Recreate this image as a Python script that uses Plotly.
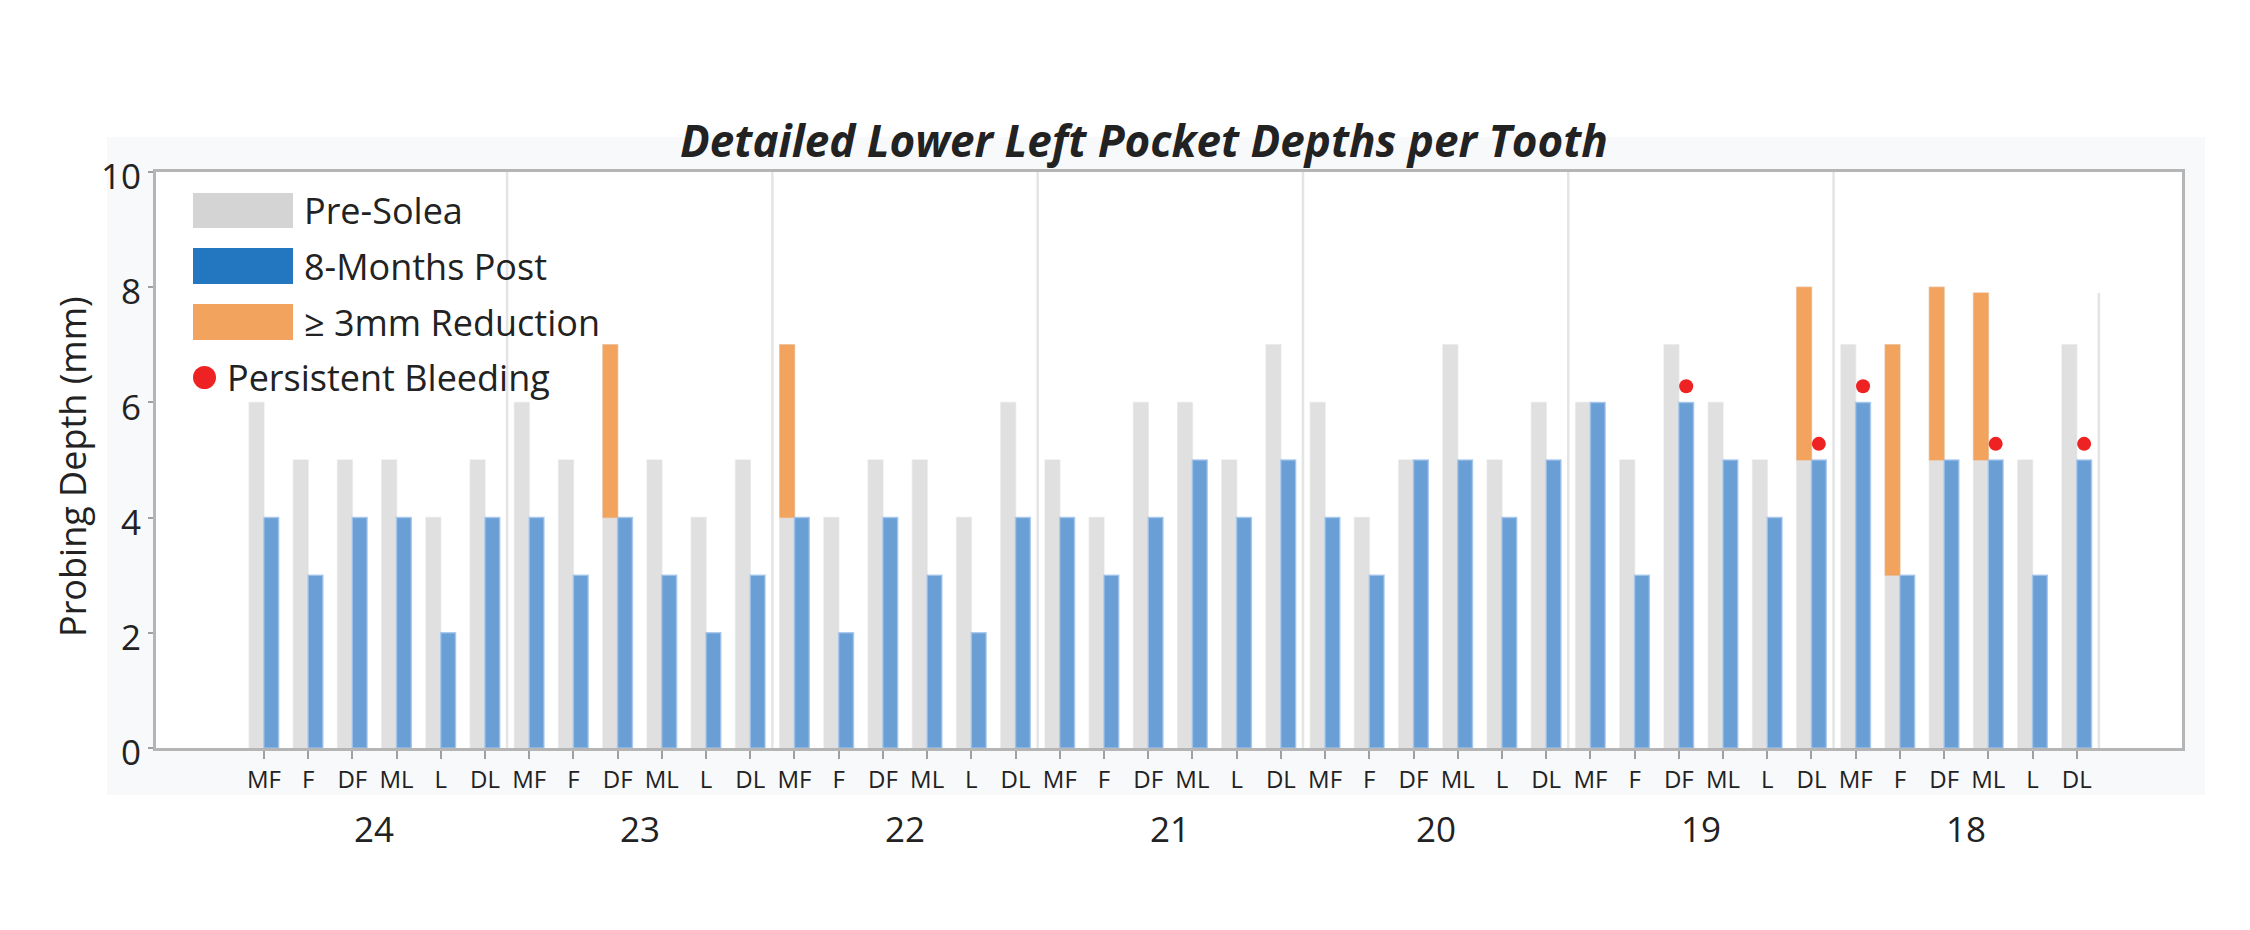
import plotly.graph_objects as go

# data
teeth = ["24", "23", "22", "21", "20", "19", "18"]
sites = ["MF", "F", "DF", "ML", "L", "DL"]

pre_solea = [6, 5, 5, 5, 4, 5,
             6, 5, 7, 5, 4, 5,
             7, 4, 5, 5, 4, 6,
             5, 4, 6, 6, 5, 7,
             6, 4, 5, 7, 5, 6,
             6, 5, 7, 6, 5, 8,
             7, 7, 8, 7.9, 5, 7]
post_8m = [4, 3, 4, 4, 2, 4,
           4, 3, 4, 3, 2, 3,
           4, 2, 4, 3, 2, 4,
           4, 3, 4, 5, 4, 5,
           4, 3, 5, 5, 4, 5,
           6, 3, 6, 5, 4, 5,
           6, 3, 5, 5, 3, 5]
reduction_3mm = [0, 0, 0, 0, 0, 0,
                 0, 0, 1, 0, 0, 0,
                 1, 0, 0, 0, 0, 0,
                 0, 0, 0, 0, 0, 0,
                 0, 0, 0, 0, 0, 0,
                 0, 0, 0, 0, 0, 1,
                 0, 1, 1, 1, 0, 0]
bleeding = [0, 0, 0, 0, 0, 0,
            0, 0, 0, 0, 0, 0,
            0, 0, 0, 0, 0, 0,
            0, 0, 0, 0, 0, 0,
            0, 0, 0, 0, 0, 0,
            0, 0, 1, 0, 0, 1,
            1, 0, 0, 1, 0, 1]

GRAY = "#e0e0e0"
BLUE = "#6a9fd5"
ORANGE = "#f2a35e"
RED = "#ee2222"
TEXT = "#222222"
FONT = "'Open Sans', Lato, sans-serif"

W, H = 2250, 930
OFF = 8  # page body margin pushes the figure 8px right/down
# plot area as it should appear on screen
PL, PR, PT, PB = 156, 2182, 172, 748
BW = 1 / 3  # bar width in category units


def px_x(px):
    return (px - PL) / (PR - PL)


def px_y(py):
    return (PB - py) / (PB - PT)


n = len(pre_solea)
xs = list(range(n))

fig = go.Figure()

fig.add_trace(go.Bar(
    x=xs, y=pre_solea, width=BW, offset=-BW,
    marker=dict(color=GRAY, line=dict(color="rgba(224,224,224,0.5)", width=1.5)),
    name="Pre-Solea", showlegend=False,
))

# orange part of the pre bar, from post value up to pre value
ox = [i for i in xs if reduction_3mm[i]]
fig.add_trace(go.Bar(
    x=ox,
    y=[pre_solea[i] - post_8m[i] for i in ox],
    base=[post_8m[i] for i in ox],
    width=BW, offset=-BW,
    marker=dict(color=ORANGE, line=dict(color="rgba(242,163,94,0.4)", width=1.5)),
    name="≥ 3mm Reduction", showlegend=False,
))

fig.add_trace(go.Bar(
    x=xs, y=post_8m, width=BW, offset=0,
    marker=dict(color=BLUE, line=dict(color="rgba(160,195,235,0.8)", width=1.5)),
    name="8-Months Post", showlegend=False,
))

bx = [i for i in xs if bleeding[i]]
fig.add_trace(go.Scatter(
    x=[i + BW / 2 for i in bx],
    y=[post_8m[i] + 0.28 for i in bx],
    mode="markers",
    marker=dict(color=RED, size=14),
    name="Persistent Bleeding", showlegend=False,
))

shapes = []
# faint frame behind the chart, then white plot area on top of it
shapes.append(dict(type="rect", xref="paper", yref="paper",
                   x0=px_x(107), x1=px_x(2205), y0=px_y(795), y1=px_y(137),
                   fillcolor="#f8f9fb", line=dict(width=0), layer="below"))
shapes.append(dict(type="rect", xref="paper", yref="paper",
                   x0=0, x1=1, y0=0, y1=1,
                   fillcolor="white", line=dict(width=0), layer="below"))

# separators between teeth
for k in range(1, len(teeth) + 1):
    xb = k * len(sites) - 0.5
    top = 10 if k < len(teeth) else max(pre_solea) - 0.1
    shapes.append(dict(type="line", xref="x", yref="y", x0=xb, x1=xb, y0=0, y1=top,
                       line=dict(color="#e4e4e4", width=2.5), layer="below"))

# hand-made legend with big swatches
legend_rows = [("Pre-Solea", "#d4d4d4", 193, 228),
               ("8-Months Post", "#2277c0", 248, 284),
               ("≥ 3mm Reduction", ORANGE, 304, 340)]
annotations = []
for label, col, y0, y1 in legend_rows:
    shapes.append(dict(type="rect", xref="paper", yref="paper",
                       x0=px_x(193), x1=px_x(293), y0=px_y(y1), y1=px_y(y0),
                       fillcolor=col, line=dict(width=0)))
    annotations.append(dict(x=px_x(302), y=px_y((y0 + y1) / 2), xref="paper", yref="paper",
                            text=label, showarrow=False, xanchor="left", yanchor="middle",
                            font=dict(size=36, color=TEXT, family=FONT)))
shapes.append(dict(type="circle", xref="paper", yref="paper",
                   x0=px_x(193), x1=px_x(216), y0=px_y(389), y1=px_y(366),
                   fillcolor=RED, line=dict(width=0)))
annotations.append(dict(x=px_x(225), y=px_y(377), xref="paper", yref="paper",
                        text="Persistent Bleeding", showarrow=False,
                        xanchor="left", yanchor="middle",
                        font=dict(size=36, color=TEXT, family=FONT)))

# tooth numbers under the site labels
for k, tooth in enumerate(teeth):
    annotations.append(dict(x=k * len(sites) + (len(sites) - 1) / 2, y=px_y(828),
                            xref="x", yref="paper", text=tooth, showarrow=False,
                            yanchor="middle", font=dict(size=35, color=TEXT, family=FONT)))

# y axis title
annotations.append(dict(x=px_x(72), y=px_y(467), xref="paper", yref="paper",
                        text="Probing Depth (mm)", textangle=-90, showarrow=False,
                        xanchor="center", yanchor="middle",
                        font=dict(size=36, color=TEXT, family=FONT)))

fig.update_layout(
    width=W, height=H,
    margin=dict(l=PL - OFF, r=W - PR + OFF, t=PT - OFF, b=H - PB + OFF, autoexpand=False),
    paper_bgcolor="white", plot_bgcolor="white",
    barmode="overlay",
    title=dict(text="<b><i>Detailed Lower Left Pocket Depths per Tooth</i></b>",
               x=(1144 - OFF) / W, y=1 - (142 - OFF) / H, xanchor="center", yanchor="middle",
               font=dict(size=44, color=TEXT, family=FONT)),
    shapes=shapes,
    annotations=annotations,
    showlegend=False,
)

fig.update_xaxes(
    range=[-2.44, 43.38],
    tickmode="array", tickvals=xs, ticktext=sites * len(teeth),
    tickfont=dict(size=24, color=TEXT, family=FONT),
    ticks="outside", ticklen=8, tickwidth=2, tickcolor="#a0a0a0",
    showline=True, linecolor="#b5b5b5", linewidth=3, mirror=True,
    showgrid=False, zeroline=False,
)
fig.update_yaxes(
    range=[0, 10], tickvals=[0, 2, 4, 6, 8, 10],
    tickfont=dict(size=35, color=TEXT, family=FONT),
    ticklabelshift=5,
    ticks="outside", ticklen=5, tickwidth=2, tickcolor="#a0a0a0",
    showline=True, linecolor="#b5b5b5", linewidth=3, mirror=True,
    showgrid=False, zeroline=False,
)

fig.write_html("out.html")
